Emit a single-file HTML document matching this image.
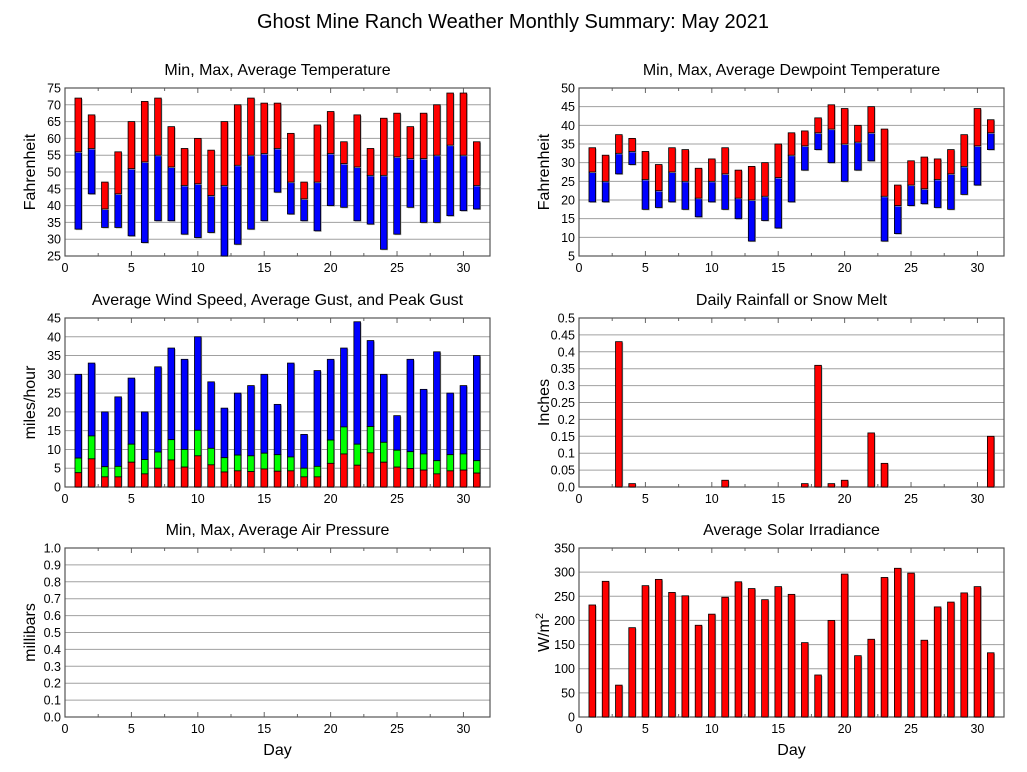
<!DOCTYPE html>
<html><head><meta charset="utf-8"><style>
html,body{margin:0;padding:0;background:#fff}
svg{display:block;font-family:"Liberation Sans",sans-serif}
</style></head><body>
<svg id="c" width="1027" height="772" viewBox="0 0 1027 772">
<text x="513" y="28" font-size="20" text-anchor="middle">Ghost Mine Ranch Weather Monthly Summary: May 2021</text>
</svg>
<script>
const days=[1,2,3,4,5,6,7,8,9,10,11,12,13,14,15,16,17,18,19,20,21,22,23,24,25,26,27,28,29,30,31];
const tempMax=[72,67,47,56,65,71,72,63.5,57,60,56.5,65,70,72,70.5,70.5,61.5,47,64,68,59,67,57,66,67.5,63.5,67.5,70,73.5,73.5,59];
const tempAvg=[56,57,39,43.5,51,53,55,51.5,46,46.5,43,46,52,55,55.5,57,47,42,47,55.5,52.5,51.5,49,49,54.5,54,54,55,58,55,46];
const tempMin=[33,43.5,33.5,33.5,31,29,35.5,35.5,31.5,30.5,32,25,28.5,33,35.5,44,37.5,35.5,32.5,40,39.5,35.5,34.5,27,31.5,39.5,35,35,37,38.5,39];
const dewMax=[34,32,37.5,36.5,33,29.5,34,33.5,28.5,31,34,28,29,30,35,38,38.5,42,45.5,44.5,40,45,39,24,30.5,31.5,31,33.5,37.5,44.5,41.5];
const dewAvg=[27.5,25,32.5,33,25.5,22.5,27.5,25,20.5,25,27,20.5,20,21,26,32,34.5,38,39,35,35.5,38,21,18.5,24,23,25.5,27,29,34.5,38];
const dewMin=[19.5,19.5,27,29.5,17.5,18,19.5,17.5,15.5,19.5,17.5,15,9,14.5,12.5,19.5,28,33.5,30,25,28,30.5,9,11,18.5,19,18,17.5,21.5,24,33.5];
const windAvg=[3.8,7.5,2.7,2.7,6.6,3.5,5,7.2,5.3,8.3,5.9,4,4.3,4.1,4.8,4.2,4.3,2.7,2.7,6.3,8.8,5.8,9.1,6.6,5.3,4.9,4.5,3.5,4.3,4.5,3.7];
const windGust=[7.7,13.6,5.4,5.5,11.4,7.3,9.3,12.6,10,15.1,10.3,7.8,8.5,8.3,9,8.6,8,5,5.5,12.5,16,11.4,16.1,11.9,9.8,9.4,8.8,7,8.6,8.8,7];
const windPeak=[30,33,20,24,29,20,32,37,34,40,28,21,25,27,30,22,33,14,31,34,37,44,39,30,19,34,26,36,25,27,35];
const rain=[0,0,0.43,0.01,0,0,0,0,0,0,0.02,0,0,0,0,0,0.01,0.36,0.01,0.02,0,0.16,0.07,0,0,0,0,0,0,0,0.15];
const solar=[232,281,66,185,272,285,258,251,190,213,248,280,266,243,270,254,154,87,200,296,127,161,289,308,298,159,228,238,257,270,133];
const tempTicks=[25,30,35,40,45,50,55,60,65,70,75];
const dewTicks=[5,10,15,20,25,30,35,40,45,50];
const windTicks=[0,5,10,15,20,25,30,35,40,45];
const rainTicks=[0,0.05,0.1,0.15,0.2,0.25,0.3,0.35,0.4,0.45,0.5];
const rainLabels=["0.0","0.05","0.1","0.15","0.2","0.25","0.3","0.35","0.4","0.45","0.5"];
const pressTicks=[0,0.1,0.2,0.3,0.4,0.5,0.6,0.7,0.8,0.9,1.0];
const solarTicks=[0,50,100,150,200,250,300,350];
const xTicks=[0,5,10,15,20,25,30];

const svg=document.getElementById('c');
const NS='http://www.w3.org/2000/svg';
function mk(tag,attrs,parent){const e=document.createElementNS(NS,tag);for(const k in attrs)e.setAttribute(k,attrs[k]);(parent||svg).appendChild(e);return e;}

function panel(name,L,R,T,B,ymin,ymax,ticks,labels,title,ylabel,xlabel,supTitle){
  const g=mk('g',{});
  
  
  const xs=d=>L+(d/32)*(R-L);
  const ys=v=>B-(v-ymin)/(ymax-ymin)*(B-T);
  const t=mk('text',{x:(L+R)/2,y:T-13,'font-size':16,'text-anchor':'middle'},g);t.textContent=title;
  
  
  ticks.forEach((v,i)=>{
    const y=ys(v);
    if(i>0&&i<ticks.length-1){const gl=mk('line',{x1:L,x2:R,y1:y,y2:y,stroke:'#a0a0a0','stroke-width':1},g);
      
      }
    const tl=mk('text',{x:L-4,y:y+4.5,'font-size':12.5,'text-anchor':'end'},g);tl.textContent=labels?labels[i]:String(v);
    
    
  });
  for(let d=2.5;d<32;d+=2.5){const x=xs(d);const len=(d%5===0)?5:3;
    mk('line',{x1:x,x2:x,y1:B,y2:B-len,stroke:'#666'},g);mk('line',{x1:x,x2:x,y1:T,y2:T+len,stroke:'#666'},g);}
  xTicks.forEach(v=>{const tl=mk('text',{x:xs(v),y:B+16,'font-size':12.5,'text-anchor':'middle'},g);tl.textContent=v;
    
    });
  const yl=mk('text',{x:0,y:0,'font-size':16,'text-anchor':'middle',transform:`translate(${L-30},${(T+B)/2}) rotate(-90)`},g);
  
  
  if(supTitle){yl.innerHTML='W/m<tspan dy="-6" font-size="11">2</tspan>';}else yl.textContent=ylabel;
  if(xlabel){const xl=mk('text',{x:(L+R)/2,y:B+38,'font-size':16,'text-anchor':'middle'},g);xl.textContent=xlabel;
    
    }
  const frame=mk('rect',{x:L,y:T,width:R-L,height:B-T,fill:'none',stroke:'#555','stroke-width':1.2},g);
  
  
  return {g,xs,ys};
}
function bar(p,d,lo,hi,color,name){
  const w=(p.xs(0.5)-p.xs(0));
  const x=p.xs(d)-w/2,y1=p.ys(hi),y2=p.ys(lo);
  const sh=mk('rect',{x:x+1,y:y1+1,width:w,height:Math.max(0,y2-y1),fill:'#aaa'},p.g);
  const r=mk('rect',{x:x,y:y1,width:w,height:Math.max(0,y2-y1),fill:color,stroke:'#000','stroke-width':0.8},p.g);
  
  
}
const p1=panel('temperature-panel',65,490,88,256,25,75,tempTicks,null,'Min, Max, Average Temperature','Fahrenheit');
days.forEach((d,i)=>{bar(p1,d,Math.max(tempMin[i],25),tempAvg[i],'#0000ff','temp-min-avg-bar');bar(p1,d,tempAvg[i],tempMax[i],'#ff0000','temp-avg-max-bar');});
const p2=panel('dewpoint-panel',579,1004,88,256,5,50,dewTicks,null,'Min, Max, Average Dewpoint Temperature','Fahrenheit');
days.forEach((d,i)=>{bar(p2,d,dewMin[i],dewAvg[i],'#0000ff','dew-min-avg-bar');bar(p2,d,dewAvg[i],dewMax[i],'#ff0000','dew-avg-max-bar');});
const p3=panel('wind-panel',65,490,318,487,0,45,windTicks,null,'Average Wind Speed, Average Gust, and Peak Gust','miles/hour');
days.forEach((d,i)=>{bar(p3,d,windGust[i],windPeak[i],'#0000ff','peak-gust-bar');bar(p3,d,windAvg[i],windGust[i],'#00ff00','avg-gust-bar');bar(p3,d,0,windAvg[i],'#ff0000','avg-wind-bar');});
const p4=panel('rainfall-panel',579,1004,318,487,0,0.5,rainTicks,rainLabels,'Daily Rainfall or Snow Melt','Inches');
days.forEach((d,i)=>{if(rain[i]>0)bar(p4,d,0,rain[i],'#ff0000','rain-bar');});
const p5=panel('pressure-panel',65,490,548,717,0,1,pressTicks,pressTicks.map(v=>v.toFixed(1)),'Min, Max, Average Air Pressure','millibars','Day');
const p6=panel('solar-panel',579,1004,548,717,0,350,solarTicks,null,'Average Solar Irradiance','',"Day",true);
days.forEach((d,i)=>{bar(p6,d,0,solar[i],'#ff0000','solar-bar');});
</script>
</body></html>
